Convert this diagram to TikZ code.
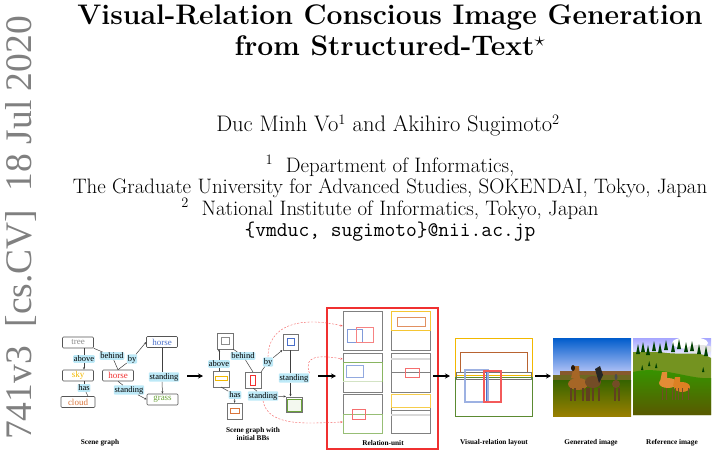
\documentclass[tikz,border=0pt]{standalone}
\usepackage{fontspec}
\newfontfamily\figfont{Liberation Serif}
\usetikzlibrary{arrows.meta,shapes.geometric}
\definecolor{relblue}{HTML}{BDE9F7}
\definecolor{objgray}{HTML}{555555}
\definecolor{sgyellow}{HTML}{F2B800}
\definecolor{sgorange}{HTML}{D9743A}
\definecolor{sgblue}{HTML}{4A6FC9}
\definecolor{sggreen}{HTML}{6BA33A}
\definecolor{sgred}{HTML}{F03030}
\begin{document}
\begin{tikzpicture}[x=1pt,y=-1pt,
  obj/.style={draw=objgray,rounded corners=1pt,line width=0.6pt,minimum width=31pt,minimum height=11pt,inner sep=0pt,font=\figfont\fontsize{9}{9}\selectfont},
  rel/.style={fill=relblue,rounded corners=1pt,inner sep=0.8pt,font=\figfont\fontsize{8.5}{8.5}\selectfont},
  bb/.style={draw=black!55,line width=0.5pt,fill=white,minimum size=15.5pt,inner sep=0pt},
  edge/.style={draw=black!75,line width=0.5pt},
  arr/.style={edge,-{Stealth[length=2.5pt,width=2pt]}},
  big/.style={-{Stealth[length=5pt,width=5pt]},line width=1.6pt},
  panel/.style={draw=black!50,line width=0.5pt,minimum width=39pt,minimum height=39pt,inner sep=0pt},
  figcap/.style={font=\figfont\bfseries\fontsize{7.3}{8}\selectfont,align=center},
  reddash/.style={draw=sgred!80,dashed,dash pattern=on 2pt off 1.5pt,line width=0.4pt,-{Stealth[length=2.5pt,width=2pt]}}
]
\useasboundingbox (0,0) rectangle (717,473);
% watermark
\node[rotate=90,text=black!50,font=\figfont\fontsize{37.5}{37.5}\selectfont,anchor=center] (wm) at (21,228) {741v3\ \ [cs.CV]\ \ 18 Jul 2020};
% title
\node[font=\bfseries\fontsize{28.3}{31}\selectfont,align=center,anchor=north] (title) at (390,1) {Visual-Relation Conscious Image Generation\\from Structured-Text$^\star$};
\node[font=\fontsize{22.5}{21}\selectfont,anchor=base] (auth) at (388,132) {Duc Minh Vo$^1$ and Akihiro Sugimoto$^2$};
\node[font=\fontsize{20.9}{21}\selectfont,align=center,anchor=north] (aff) at (390,152) {$^1$\ \ Department of Informatics,\\The Graduate University for Advanced Studies, SOKENDAI, Tokyo, Japan\\$^2$\ \ National Institute of Informatics, Tokyo, Japan\\{\ttfamily\{vmduc, sugimoto\}@nii.ac.jp}};

% ---------- scene graph ----------
\node[obj,text=black!45] (tree) at (78,342.5) {tree};
\node[obj,text=sgyellow] (sky) at (78,375.5) {sky};
\node[obj,text=sgorange,minimum width=34pt] (cloud) at (78,402) {cloud};
\node[obj,text=sgred] (horseR) at (118,375.5) {horse};
\node[obj,text=sgblue] (horseB) at (162,342) {horse};
\node[obj,text=sggreen] (grass) at (162.5,399.5) {grass};
\node[rel] (above1) at (84,359) {above};
\node[rel] (has1) at (84,388) {has};
\node[rel] (behind1) at (112,356) {behind};
\node[rel] (by1) at (132,359) {by};
\node[rel] (stand1) at (129,390) {standing};
\node[rel] (stand2) at (164,377) {standing};
\draw[edge] (tree.south -| above1) -- (above1);
\draw[arr] (above1) -- (sky.north -| above1);
\draw[edge] (sky.south -| has1) -- (has1);
\draw[edge] (has1) -- (cloud.north -| 88,0);
\draw[edge] (tree.south east) -- (behind1);
\draw[edge] (behind1) -- (horseR.north);
\draw[edge] (horseR.north) -- (by1);
\draw[arr] (by1) -- (horseB.west);
\draw[edge] (horseB.south) -- (stand2.north -| horseB);
\draw[arr] (stand2.south -| horseB) -- (grass.north);
\draw[edge] (horseR.south) -- (stand1);
\draw[arr] (stand1) -- (grass.west);
\node[figcap] (c1) at (100,443) {Scene graph};

\draw[big] (187,376) -- (203,376);

% ---------- scene graph with BBs ----------
\node[bb] (tB) at (225,341) {};
\draw[black!45,line width=0.5pt] (221,337) rectangle (229,344);
\node[bb] (sB) at (221,379) {};
\draw[sgyellow,line width=0.6pt] (215,376) rectangle (227,380);
\node[bb] (cB) at (234.5,411) {};
\draw[sgorange,line width=0.6pt] (230,408) rectangle (239,413);
\node[bb] (hRB) at (253,380) {};
\draw[sgred,line width=0.6pt] (250,375) rectangle (255,385);
\node[bb] (hBB) at (290.5,342) {};
\draw[sgblue,line width=0.6pt] (287,338) rectangle (294,345);
\node[bb] (gB) at (294,404.5) {};
\draw[sggreen,line width=0.6pt,fill=sggreen!8] (287.5,399.5) rectangle (301,411.5);
\node[rel] (above2) at (219,364) {above};
\node[rel] (behind2) at (243,356) {behind};
\node[rel] (by2) at (268,362) {by};
\node[rel] (has2) at (235,395) {has};
\node[rel] (stand3) at (263,396) {standing};
\node[rel] (stand4) at (294,378) {standing};
\draw[edge] (sB.north -| above2) -- (above2);
\draw[arr] (above2) -- (tB.south -| above2);
\draw[edge] (tB.south east) -- (behind2);
\draw[edge] (behind2) -- (hRB.north);
\draw[edge] (hRB.north east) -- (by2);
\draw[arr] (by2) -- (hBB.south west);
\draw[edge] (sB.south) -- (has2);
\draw[arr] (has2) -- (cB.north);
\draw[edge] (hRB.south) -- (stand3);
\draw[arr] (stand3) -- (gB.north west);
\draw[edge] (hBB.south) -- (stand4.north -| hBB);
\draw[arr] (stand4.south -| hBB) -- (gB.north -| hBB);
\node[figcap] (c2) at (253,434) {Scene graph with\\initial BBs};

% ---------- relation unit ----------
\node[draw=sgred,line width=1.2pt,minimum width=111pt,minimum height=141pt,inner sep=0pt] (ru) at (382.5,378.5) {};
\node[panel] (p11) at (362.5,330.5) {};
\node[panel,draw=none] (p12) at (410.5,330.5) {};
\node[panel,draw=none] (p21) at (362.5,372.5) {};
\node[panel] (p22) at (410.5,372.5) {};
\node[panel,draw=none] (p31) at (362.5,413.5) {};
\node[panel,draw=none] (p32) at (410.5,413.5) {};
% p11
\draw[sgblue!70,line width=0.6pt] (347,329) rectangle (362,342);
\draw[sgred!60,line width=0.9pt] (356,327) rectangle (373,342);
% p12
\draw[black!50,line width=0.5pt] (391,330) rectangle (430,350);
\draw[sgyellow!80,line width=0.6pt] (391,311) rectangle (430,330);
\draw[sgorange!80,line width=0.9pt] (397,317) rectangle (425,326);
% p21
\draw[black!50,line width=0.5pt] (343,353) rectangle (382,392);
\draw[sggreen!80,line width=0.6pt,fill=white] (343,362) rectangle (382,381);
\draw[sggreen!30,line width=1pt] (343,381.5) -- (382,381.5);
\draw[sgblue!60,line width=0.8pt] (346,365) rectangle (363,377);
% p22
\draw[black!15,line width=1.5pt] (391,359) -- (430,359);
\draw[black!50,line width=0.5pt] (391,372) -- (430,372);
\draw[sgred!70,line width=0.6pt] (405,368) rectangle (419,377);
% p31
\draw[black!50,line width=0.5pt] (343,394) -- (343,414) (343,394) -- (382,394) -- (382,414);
\draw[sggreen!70,line width=0.6pt] (343,414) rectangle (382,433);
\draw[sgred!70,line width=0.6pt] (352,409) rectangle (365,419);
% p32
\draw[black!50,line width=0.5pt] (391,407) rectangle (430,433);
\draw[sgyellow!70,line width=0.6pt] (391,394) rectangle (430,407);
\draw[black!50,line width=0.5pt] (391,410) -- (430,410);
\draw[black!15,line width=1.5pt] (391,415) -- (430,415);
\node[figcap] (c3) at (383,443) {Relation-unit};
% red dashed
\draw[reddash] (by2.north) .. controls (268,325) and (300,316) .. (p11.west |- 0,326);
\draw[reddash] (stand4.north east) .. controls (303,355) and (320,355) .. (p21.west |- 0,359);
\draw[reddash] (stand3.south) .. controls (268,428) and (310,423) .. (p31.west |- 0,422);
\draw[big] (318,376) -- (336,376);

\draw[big] (433,376) -- (450,376);

% ---------- layout ----------
\coordinate (lay) at (455,338);
\draw[sgyellow,line width=0.8pt] (455,377) -- (455,338) -- (532,338) -- (532,377);
\draw[sgorange!85!black,line width=1pt] (460,352) rectangle (527,372);
\draw[sgyellow,line width=0.8pt] (456,375) -- (531,375);
\draw[black!55,line width=0.8pt] (456,372) rectangle (531,379);
\draw[sggreen!85!black,line width=0.8pt] (455,377) rectangle (532,416);
\draw[sgblue!60,line width=1.2pt,opacity=0.9] (465,370) rectangle (488,402);
\draw[sgblue,line width=0.6pt] (486,371) -- (486,402);
\draw[sgred!80,line width=1.2pt] (484,371) rectangle (501,402);
\node[figcap] (c4) at (494,443) {Visual-relation layout};

\draw[big] (535,376) -- (551,376);

% ---------- generated image ----------
\begin{scope}
\clip (553,338) rectangle (631,416);
\shade[top color=blue!55!cyan!80!black,bottom color=blue!15!white] (553,338) rectangle (631,380);
\fill[olive!70!black] (553,375) rectangle (631,381);
\shade[top color=olive!70!green!60!black,bottom color=olive!60!brown] (553,380) rectangle (631,416);
\fill[brown!70!black] (560,371) rectangle (631,375);
\fill[brown!75!orange!80!black] (578,384) ellipse (10pt and 6pt);
\fill[brown!75!orange!80!black] (571,378) -- (574,366) -- (579,366) -- (580,380) -- cycle;
\fill[black!80!brown] (573,368) ellipse (2pt and 3pt);
\fill[brown!60!black] (593,382) ellipse (8pt and 6pt);
\fill[black!85] (595,369) -- (600,366) -- (603,375) -- (599,383) -- cycle;
\fill[brown!60!black] (616,384) ellipse (4pt and 4pt);
\fill[black!70] (616,377) ellipse (1.5pt and 3pt);
\foreach \xx in {570,574,582,586,588,592,598,614,618}
  \fill[brown!50!black] (\xx,388) rectangle (\xx+1.6,401);
\end{scope}
\node[figcap] (c5) at (591,443) {Generated image};

% ---------- reference image ----------
\begin{scope}
\clip (633,338) rectangle (711,415);
\shade[top color=blue!35!white,bottom color=white] (633,338) rectangle (711,360);
\fill[white] (690,343) ellipse (18pt and 6pt);
\fill[black!10] (700,349) ellipse (14pt and 4pt);
\fill[sggreen!55!olive] (633,352) -- (660,352) .. controls (680,356) and (700,350) .. (711,358) -- (711,415) -- (633,415) -- cycle;
\shade[top color=olive!50!green!80!black,bottom color=olive!70!black] (633,372) .. controls (660,365) and (690,380) .. (711,378) -- (711,415) -- (633,415) -- cycle;
\foreach \xx/\yy in {636/354,641/352,646/355,652/351,658/353,664/350,671/352,677/349,684/352,690/351,697/354,704/356}
  \fill[green!25!black] (\xx,\yy) -- (\xx+2,\yy-10) -- (\xx+4,\yy) -- cycle;
\foreach \xx/\yy in {641/370,648/366,655/368,702/372}
  \fill[green!25!black] (\xx,\yy) -- (\xx+1.2,\yy-5) -- (\xx+2.4,\yy) -- cycle;
\fill[orange!50!brown!90!white] (668,383) ellipse (9pt and 5pt);
\fill[orange!50!brown!90!white] (660,382) -- (662,372) -- (667,372) -- (667,382) -- cycle;
\fill[orange!45!brown] (682,387) ellipse (8pt and 5pt);
\fill[orange!45!brown] (673,386) -- (675,377) -- (680,377) -- (680,386) -- cycle;
\foreach \xx in {662,666,672,675,678,682,688}
  \fill[brown!60!black] (\xx,388) rectangle (\xx+1.3,400);
\end{scope}
\node[figcap] (c6) at (672,443) {Reference image};
\end{tikzpicture}
\end{document}
